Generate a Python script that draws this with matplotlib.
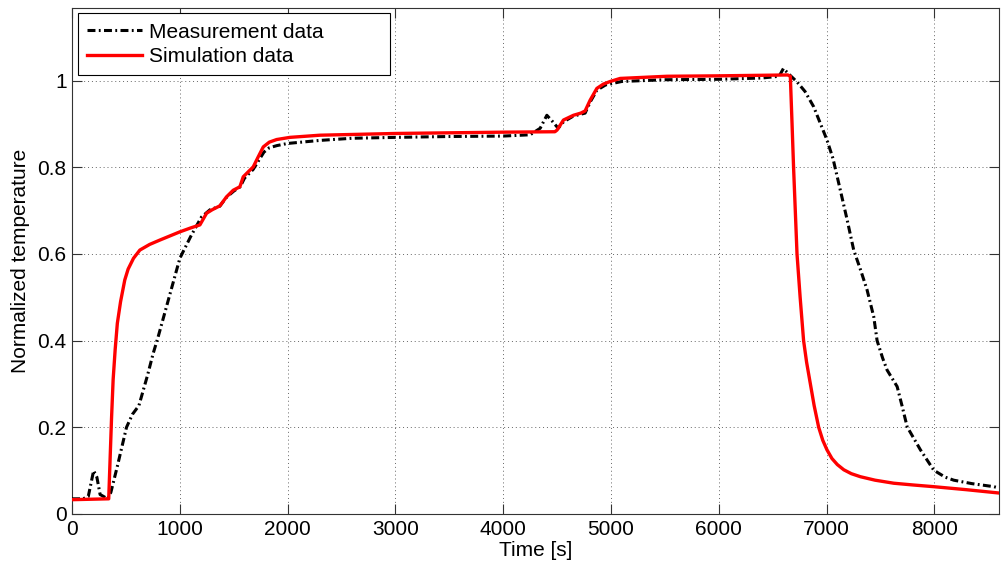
import numpy as np
import matplotlib.pyplot as plt
from matplotlib.ticker import FormatStrFormatter

plt.rcParams['font.family'] = ['Liberation Sans', 'DejaVu Sans']

# Measured temperature (normalized) vs time
t_meas = [0, 100, 150, 200, 230, 260, 330, 360, 420, 505, 560, 620, 700, 752, 800,
          900, 1000, 1100, 1155, 1200, 1280, 1370, 1430, 1500, 1560, 1600, 1680,
          1730, 1780, 1830, 1900, 2000, 2300, 2600, 3000, 3500, 4000, 4250, 4343,
          4405, 4460, 4510, 4560, 4650, 4760, 4810, 4870, 4950, 5100, 5500, 6000,
          6400, 6560, 6600, 6650, 6726, 6800, 6880, 7004, 7060, 7128, 7190, 7252,
          7320, 7376, 7438, 7469, 7520, 7562, 7655, 7700, 7748, 7871, 7995, 8100,
          8180, 8350, 8552, 8600]
y_meas = [0.035, 0.035, 0.04, 0.10, 0.085, 0.045, 0.035, 0.05, 0.11, 0.20, 0.23,
          0.25, 0.32, 0.37, 0.41, 0.50, 0.59, 0.64, 0.665, 0.685, 0.702, 0.71,
          0.73, 0.745, 0.755, 0.775, 0.795, 0.815, 0.835, 0.845, 0.85, 0.855,
          0.862, 0.867, 0.869, 0.871, 0.872, 0.875, 0.89, 0.92, 0.905, 0.89,
          0.905, 0.918, 0.925, 0.952, 0.978, 0.99, 0.998, 1.002, 1.003, 1.006,
          1.01, 1.028, 1.015, 0.997, 0.975, 0.94, 0.863, 0.82, 0.747, 0.68,
          0.609, 0.56, 0.517, 0.455, 0.40, 0.36, 0.332, 0.294, 0.25, 0.201,
          0.148, 0.101, 0.085, 0.078, 0.07, 0.063, 0.06]

# Simulated temperature (normalized) vs time
t_sim = [0, 340, 366, 381, 400, 420, 450, 489, 520, 570, 629, 720, 814, 1000,
         1100, 1186, 1248, 1300, 1371, 1434, 1495, 1557, 1588, 1681, 1727, 1774,
         1830, 1898, 2021, 2300, 3000, 4000, 4480, 4500, 4559, 4652, 4720, 4760,
         4807, 4869, 4930, 4993, 5085, 5519, 6000, 6640, 6664, 6680, 6694, 6710,
         6726, 6755, 6787, 6815, 6850, 6885, 6927, 6965, 7004, 7050, 7100, 7160,
         7230, 7314, 7450, 7623, 7800, 7995, 8300, 8615]
y_sim = [0.033, 0.035, 0.22, 0.31, 0.38, 0.44, 0.49, 0.54, 0.565, 0.59, 0.609,
         0.622, 0.632, 0.651, 0.66, 0.667, 0.694, 0.702, 0.711, 0.732, 0.747,
         0.755, 0.778, 0.801, 0.824, 0.847, 0.858, 0.864, 0.869, 0.874, 0.878,
         0.881, 0.882, 0.886, 0.909, 0.920, 0.925, 0.93, 0.955, 0.982, 0.992,
         0.998, 1.005, 1.010, 1.011, 1.013, 1.01, 0.90, 0.80, 0.70, 0.60, 0.50,
         0.40, 0.35, 0.30, 0.25, 0.20, 0.17, 0.148, 0.128, 0.114, 0.102, 0.093,
         0.086, 0.078, 0.071, 0.067, 0.063, 0.056, 0.048]

fig = plt.figure(figsize=(10.01, 5.67), dpi=100)
ax = fig.add_axes([0.072, 0.0935, 0.926, 0.892])

ax.plot(t_meas, y_meas, color='black', lw=2.2,
        linestyle=(0, (2.6, 1.1, 0.6, 1.1)), label='Measurement data', zorder=3)
ax.plot(t_sim, y_sim, color='red', lw=2.4, label='Simulation data', zorder=4)

ax.set_xlim(0, 8600)
ax.set_ylim(0, 1.167)
ax.set_xticks(np.arange(0, 8001, 1000))
ax.set_yticks(np.arange(0, 1.01, 0.2))
ax.yaxis.set_major_formatter(FormatStrFormatter('%g'))

ax.grid(True, linestyle=(0, (1, 3)), color='#666666', lw=0.7)
ax.tick_params(direction='in', length=7, width=0.8, top=True, right=True,
               labelsize=15, colors='#333333', labelcolor='black', pad=4)
for s in ax.spines.values():
    s.set_color('#333333')
    s.set_linewidth(0.8)

ax.set_xlabel('Time [s]', fontsize=15, labelpad=2)
ax.set_ylabel('Normalized temperature', fontsize=15, labelpad=5)

# legend stretched to a fixed width in the upper left corner
leg = ax.legend(loc='upper left', bbox_to_anchor=(0.0065, 0.5, 0.337, 0.49),
                mode='expand', fontsize=15, fancybox=False, framealpha=1,
                edgecolor='black', handlelength=2.6, handletextpad=0.35,
                borderpad=0.45, labelspacing=0.25, borderaxespad=0)
leg.get_frame().set_linewidth(0.8)

fig.savefig('out.png', dpi=100)
